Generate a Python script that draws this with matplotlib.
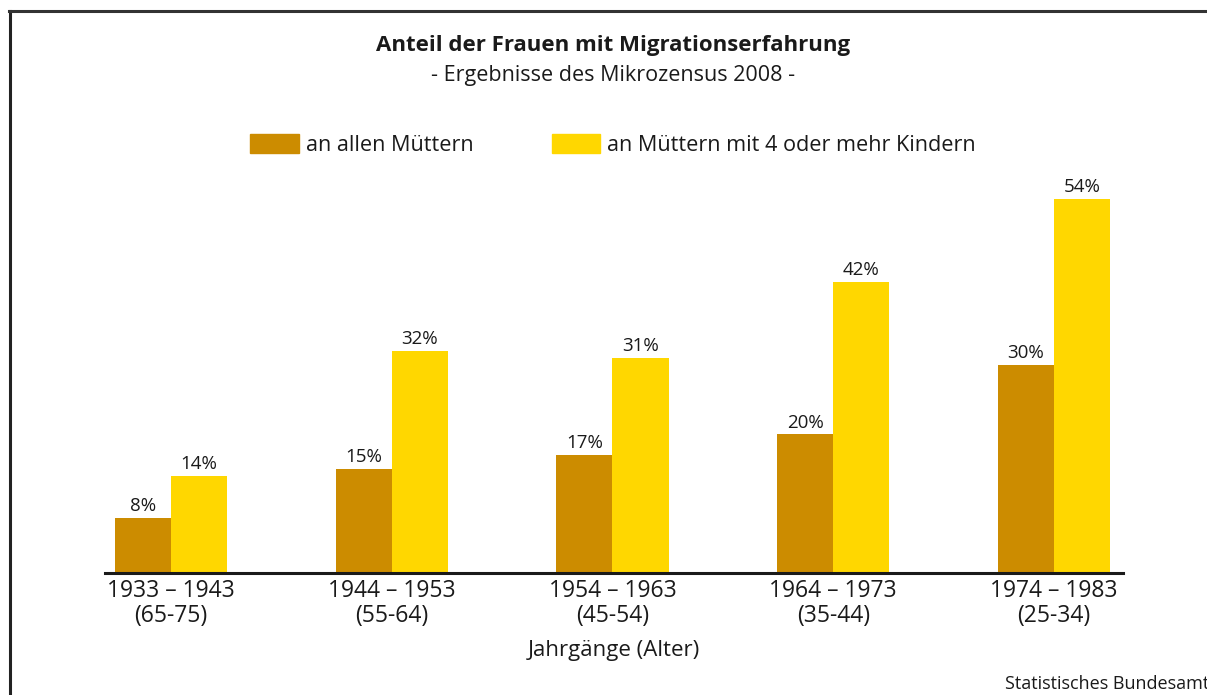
import matplotlib.pyplot as plt
from matplotlib.lines import Line2D
from matplotlib.patches import Patch

plt.rcParams['font.family'] = ['Open Sans', 'DejaVu Sans']

# Data
jahrgaenge = ['1933 – 1943', '1944 – 1953', '1954 – 1963', '1964 – 1973', '1974 – 1983']
alter = ['(65-75)', '(55-64)', '(45-54)', '(35-44)', '(25-34)']
alle_muetter = [8, 15, 17, 20, 30]
muetter_4_kinder = [14, 32, 31, 42, 54]

col_dark = '#CC8C00'
col_yellow = '#FFD700'
txt = '#1a1a1a'

fig = plt.figure(figsize=(12.07, 6.95), dpi=100)

# frame around the chart (cut off at right and bottom)
fig.add_artist(Line2D([10/1207, 10/1207], [0, 1 - 11/695], color='#222222', lw=2.2))
fig.add_artist(Line2D([9/1207, 1], [1 - 11/695, 1 - 11/695], color='#333333', lw=2.2))
fig.text(0.5, 1.008, 'Schaubild 7', ha='center', va='center', fontsize=13, color=txt)

fig.text(613/1207, 1 - 46/695, 'Anteil der Frauen mit Migrationserfahrung', ha='center',
         va='center', fontsize=16, fontweight='bold', color=txt)
fig.text(613/1207, 1 - 76/695, '- Ergebnisse des Mikrozensus 2008 -', ha='center',
         va='center', fontsize=15.5, color=txt)
fig.text(1005/1207, 1 - 684/695, 'Statistisches Bundesamt', ha='left', va='center',
         fontsize=13, color=txt)

ax = fig.add_axes([105/1207, 122/695, 1018/1207, 416/695])
x = list(range(len(jahrgaenge)))
w = 0.2537
ax.bar([i - w/2 for i in x], alle_muetter, width=w, color=col_dark)
ax.bar([i + w/2 for i in x], muetter_4_kinder, width=w, color=col_yellow)

for i in x:
    ax.text(i - w/2, alle_muetter[i] + 0.4, f'{alle_muetter[i]}%', ha='center', va='bottom',
            fontsize=13.5, color=txt)
    ax.text(i + w/2, muetter_4_kinder[i] + 0.4, f'{muetter_4_kinder[i]}%', ha='center',
            va='bottom', fontsize=13.5, color=txt)

ax.set_xlim(-0.299, 4.3126)
ax.set_ylim(0, 60)
for s in ['top', 'right', 'left']:
    ax.spines[s].set_visible(False)
ax.spines['bottom'].set_linewidth(2.2)
ax.spines['bottom'].set_color('#1a1a1a')
ax.set_yticks([])
ax.set_xticks(x)
ax.set_xticklabels([f'{j}\n{a}' for j, a in zip(jahrgaenge, alter)], fontsize=16.5,
                   color=txt, linespacing=1.08)
ax.tick_params(axis='x', length=0, pad=4)
ax.set_xlabel('Jahrgänge (Alter)', fontsize=16, color=txt, labelpad=9)

handles = [Patch(color=col_dark, label='an allen Müttern'),
           Patch(color=col_yellow, label='an Müttern mit 4 oder mehr Kindern')]
fig.legend(handles=handles, loc='center', bbox_to_anchor=(613/1207, 1 - 145/695), ncol=2,
           frameon=False, fontsize=15.6, handlelength=2.26, handleheight=0.97,
           handletextpad=0.3, columnspacing=3.6, labelcolor=txt)

fig.savefig('out.png', dpi=100)
